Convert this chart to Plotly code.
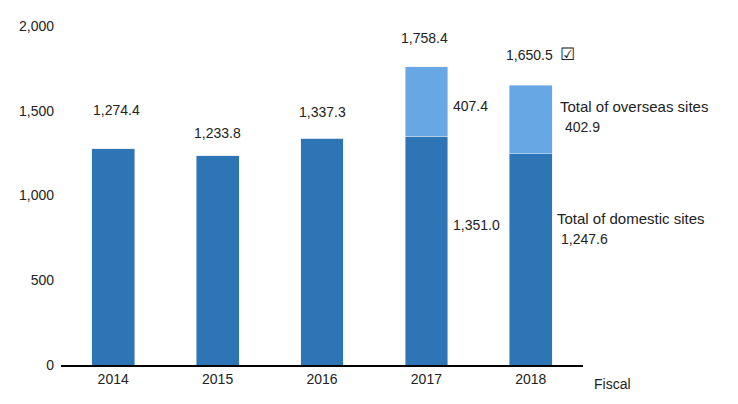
import plotly.graph_objects as go

# Données
annees = ["2014", "2015", "2016", "2017", "2018"]
domestique = [1274.4, 1233.8, 1337.3, 1351.0, 1247.6]
etranger = [0, 0, 0, 407.4, 402.9]
totaux = [1274.4, 1233.8, 1337.3, 1758.4, 1650.5]
ticks_y = [0, 500, 1000, 1500, 2000]
y_max = 2000

police = dict(family="Liberation Sans", size=14, color="#222222")
bleu_fonce = "#2E75B6"
bleu_clair = "#66A7E4"

fig = go.Figure()
fig.add_trace(go.Bar(x=annees, y=domestique, marker_color=bleu_fonce,
                     name="Total of domestic sites"))
fig.add_trace(go.Bar(x=annees, y=etranger, marker_color=bleu_clair,
                     name="Total of overseas sites"))


def etiquette(i, valeur, texte, dx=0, dy=0, ancre="center", taille=14):
    # position en coordonnées papier, calculée à partir de la catégorie et de la valeur
    fig.add_annotation(x=(i + 0.5) / len(annees), y=valeur / y_max,
                       xref="paper", yref="paper", text=texte, showarrow=False,
                       xanchor=ancre, yanchor="middle", xshift=dx, yshift=dy,
                       font=dict(family=police["family"], size=taille,
                                 color=police["color"]))


# Totaux au-dessus des barres (décalages)
decalages = [(3, 39), (0, 23), (0, 26), (-2, 29), (-1, 30)]
for i, (tot, (dx, dy)) in enumerate(zip(totaux, decalages)):
    etiquette(i, tot, f"{tot:,.1f}", dx, dy)
etiquette(4, totaux[4], "☑", 37, 31, taille=17)

# Étiquettes des segments
etiquette(3, 1527, f"{etranger[3]:,.1f}", 25, ancre="left")
etiquette(3, 824, f"{domestique[3]:,.1f}", 25, ancre="left")
etiquette(4, 1527, "Total of overseas sites", 27, ancre="left", taille=15)
etiquette(4, 1406, f"{etranger[4]:,.1f}", 32, ancre="left")
etiquette(4, 865, "Total of domestic sites", 24, ancre="left", taille=15)
etiquette(4, 744, f"{domestique[4]:,.1f}", 28, ancre="left")

fig.add_annotation(x=1, y=0, xref="paper", yref="paper", text="Fiscal",
                   showarrow=False, xanchor="left", yanchor="top",
                   xshift=9, yshift=-9, font=police)

fig.update_layout(
    barmode="stack",
    bargap=0.59,
    width=738,
    height=404,
    margin=dict(l=53, r=163, t=10, b=47),
    plot_bgcolor="white",
    paper_bgcolor="white",
    showlegend=False,
    font=police,
    xaxis=dict(type="category", showline=True, linecolor="black", linewidth=2,
               showgrid=False),
    yaxis=dict(range=[0, y_max], tickvals=ticks_y, tickformat=",", ticksuffix=" ·",
               ticklabelstandoff=6, showgrid=False, zeroline=False),
)

fig.write_html("out.html")
